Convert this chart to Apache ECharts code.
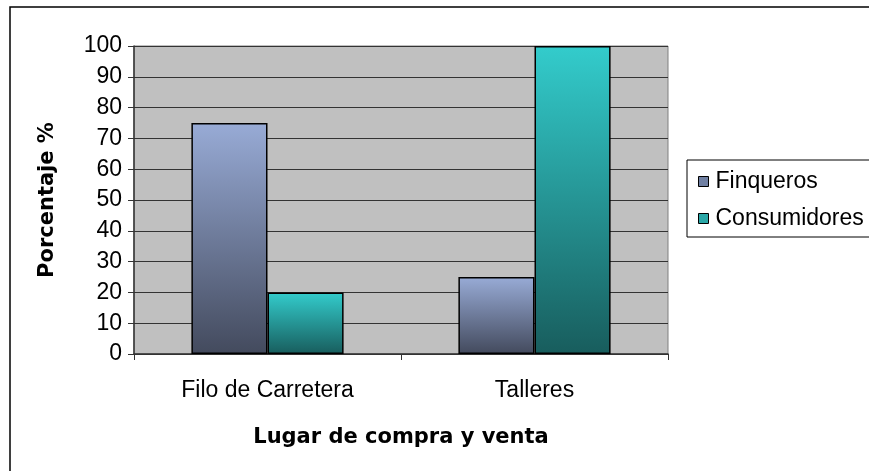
<!DOCTYPE html>
<html>
<head>
<meta charset="utf-8">
<script src="https://cdn.jsdelivr.net/npm/echarts@6/dist/echarts.min.js"></script>
<style>
  html, body { margin: 0; padding: 0; background: #fff; }
  #chart { width: 869px; height: 471px; }
</style>
</head>
<body>
<div id="chart"></div>
<script>
const categories = ['Filo de Carretera', 'Talleres']
const finqueros = [75, 25]
const consumidores = [20, 100]
const yTicks = [0, 10, 20, 30, 40, 50, 60, 70, 80, 90, 100]

const font = 'Liberation Sans, Arial, sans-serif'
const titleFont = 'DejaVu Sans, Arial, sans-serif'

function grad(top, bottom) {
  return new echarts.graphic.LinearGradient(0, 0, 0, 1, [
    { offset: 0, color: top },
    { offset: 1, color: bottom }
  ])
}

let myChart = echarts.init(document.getElementById('chart'))
let option = {
  backgroundColor: '#fff',
  animation: false,
  graphic: [
    {
      type: 'rect',
      shape: { x: 10, y: 7, width: 900, height: 500 },
      style: { fill: 'none', stroke: '#000', lineWidth: 1.5 },
      silent: true
    }
  ],
  grid: {
    left: 134,
    right: 201,
    top: 46,
    bottom: 117,
    show: true,
    backgroundColor: '#c0c0c0',
    borderColor: '#808080',
    borderWidth: 1
  },
  legend: {
    orient: 'vertical',
    left: 687,
    top: 160,
    padding: [10, 40, 7, 11],
    itemGap: 14,
    itemWidth: 10,
    itemHeight: 10,
    icon: 'rect',
    borderColor: '#000',
    borderWidth: 1,
    textStyle: { fontFamily: font, fontSize: 23, color: '#000', lineHeight: 23, padding: [0, 0, 0, 2] },
    data: [
      { name: 'Finqueros', itemStyle: { color: '#7080a3', borderColor: '#000', borderWidth: 1 } },
      { name: 'Consumidores', itemStyle: { color: '#2aa7a7', borderColor: '#000', borderWidth: 1 } }
    ]
  },
  xAxis: {
    type: 'category',
    data: categories,
    name: 'Lugar de compra y venta',
    nameLocation: 'middle',
    nameGap: 73,
    nameTextStyle: { fontFamily: titleFont, fontSize: 21, fontWeight: 'bold', color: '#000' },
    axisLine: { show: true, lineStyle: { color: '#333', width: 1.5 } },
    axisTick: { show: true, length: 6, lineStyle: { color: '#333' } },
    axisLabel: { fontFamily: font, fontSize: 23, color: '#000', margin: 25 },
    splitLine: { show: false }
  },
  yAxis: {
    type: 'value',
    min: 0,
    max: 100,
    interval: 10,
    name: 'Porcentaje %',
    nameLocation: 'middle',
    nameRotate: 90,
    nameGap: 76,
    nameTextStyle: { fontFamily: titleFont, fontSize: 21, fontWeight: 'bold', color: '#000' },
    axisLine: { show: true, lineStyle: { color: '#333', width: 1.5 } },
    axisTick: { show: true, length: 6, lineStyle: { color: '#333' } },
    axisLabel: {
      fontFamily: font, fontSize: 23, color: '#000', margin: 12,
      formatter: v => (yTicks.indexOf(v) >= 0 ? String(v) : '')
    },
    splitLine: { show: true, lineStyle: { color: '#333', width: 1 } }
  },
  series: [
    {
      name: 'Finqueros',
      type: 'bar',
      data: finqueros,
      barGap: '0%',
      barCategoryGap: '43%',
      itemStyle: { color: grad('#98abd6', '#434a5d'), borderColor: '#000', borderWidth: 1.5 }
    },
    {
      name: 'Consumidores',
      type: 'bar',
      data: consumidores,
      itemStyle: { color: grad('#33cccc', '#185d5d'), borderColor: '#000', borderWidth: 1.5 }
    }
  ]
}
myChart.setOption(option)
</script>
</body>
</html>
